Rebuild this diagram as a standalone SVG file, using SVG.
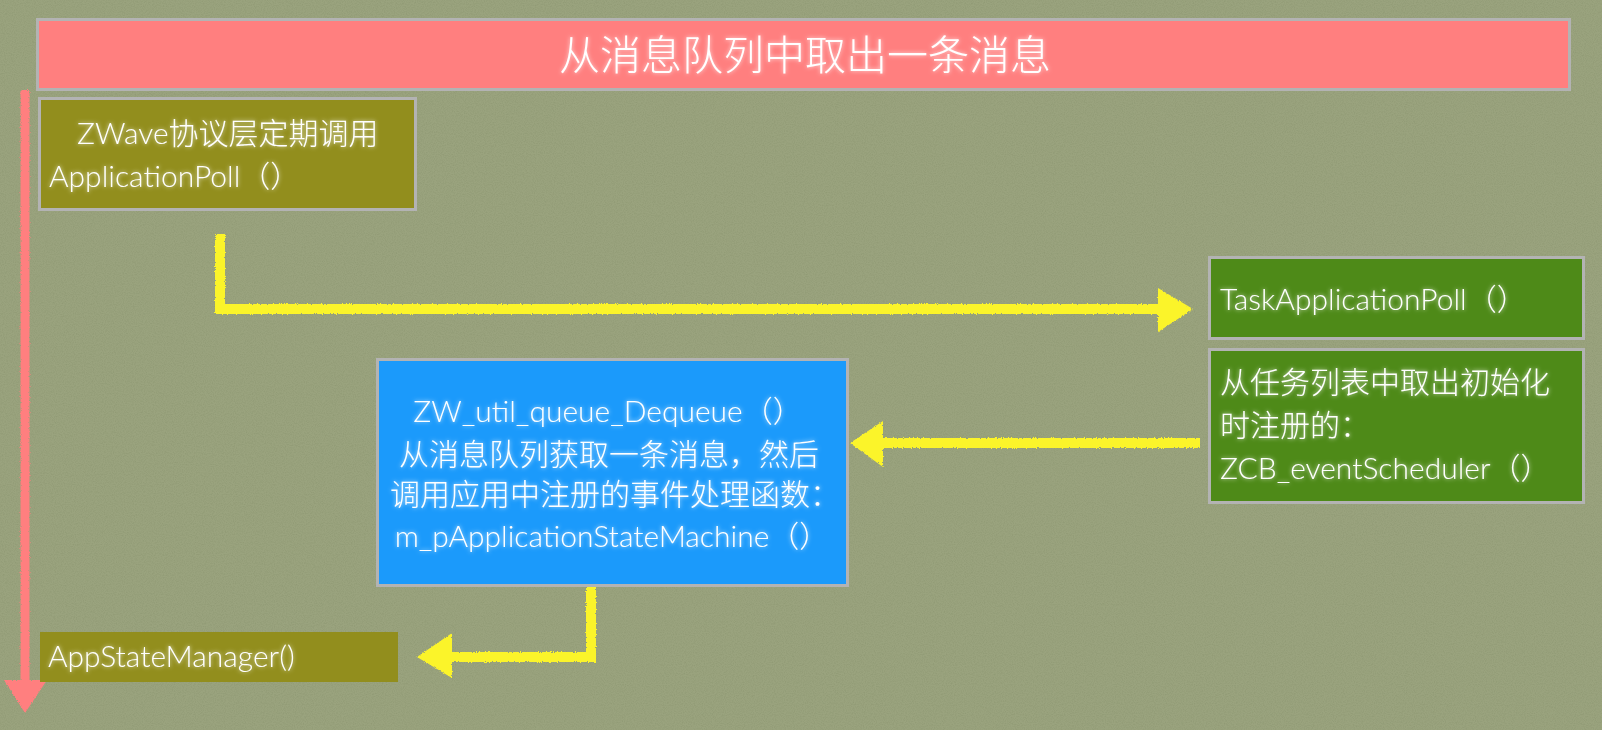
<svg xmlns="http://www.w3.org/2000/svg" width="1602" height="730" viewBox="0 0 1602 730">
<style>
.t{font-family:"Lato","Liberation Sans","Noto Sans CJK SC",sans-serif;font-weight:300;fill:#ffffff;font-size:30px;filter:url(#glow)}
.title{font-size:41px}
.box{stroke:#b3b3b3;stroke-width:3}
.olive{fill:#928e1d}
.green{fill:#4e8a18}
.blue{fill:#1b9afb}
.pink{fill:#ff7f7f}
.conn{fill:none;stroke:#fbf42b;stroke-width:10;stroke-linejoin:miter}
.head{fill:#fbf42b}
</style>
<defs>
<filter id="glow" x="-10%" y="-30%" width="120%" height="160%">
<feGaussianBlur in="SourceAlpha" stdDeviation="2.2" result="b"/>
<feFlood flood-color="#ffffff" flood-opacity="0.75"/>
<feComposite in2="b" operator="in" result="g"/>
<feMerge><feMergeNode in="g"/><feMergeNode in="SourceGraphic"/></feMerge>
</filter>
<filter id="noise" x="0" y="0" width="100%" height="100%">
<feTurbulence type="fractalNoise" baseFrequency="0.9 0.9" numOctaves="2" seed="3" result="n"/>
<feColorMatrix in="n" type="matrix" values="0 0 0 0 0.2  0 0 0 0 0.24  0 0 0 0 0.12  0 0 0 -1.6 1.0"/>
</filter>
<filter id="chalk" x="-5%" y="-5%" width="110%" height="110%">
<feTurbulence type="fractalNoise" baseFrequency="0.8" numOctaves="2" seed="7" result="n"/>
<feDisplacementMap in="SourceGraphic" in2="n" scale="3" xChannelSelector="R" yChannelSelector="G"/>
</filter>
</defs>
<rect x="0" y="0" width="1602" height="730" fill="#9aa37e"/>
<rect x="0" y="0" width="1602" height="730" filter="url(#noise)" opacity="0.35"/>

<g id="connectors" filter="url(#chalk)">
<g id="flow-arrow">
<line x1="25" y1="90" x2="25" y2="684" stroke="#ff7f7f" stroke-width="9"/>
<polygon points="4,680 47,680 25,713" fill="#ff7f7f"/>
</g>
<g id="c1">
<polyline class="conn" points="220,234 220,309 1162,309"/>
<polygon class="head" points="1158,288 1193,309 1158,332"/>
</g>
<g id="c2">
<polyline class="conn" points="1200,443 880,443"/>
<polygon class="head" points="883,421 850,443 883,467"/>
</g>
<g id="c3">
<polyline class="conn" points="591,583 591,657 450,657"/>
<polygon class="head" points="452,633 417,657 452,678"/>
</g>
</g>

<g id="title">
<rect class="box pink" x="37.5" y="19.5" width="1532" height="70"/>
<text class="t title" x="805" y="70" text-anchor="middle">从消息队列中取出一条消息</text>
</g>

<g id="zwave">
<rect class="box olive" x="39.5" y="98.5" width="376" height="111"/>
<text class="t" x="77" y="144">ZWave协议层定期调用</text>
<text class="t" x="49" y="187">ApplicationPoll（）</text>
</g>

<g id="task">
<rect class="box green" x="1209.5" y="257.5" width="374" height="81"/>
<text class="t" x="1220" y="310">TaskApplicationPoll（）</text>
</g>

<g id="scheduler">
<rect class="box green" x="1209.5" y="349.5" width="374" height="153"/>
<text class="t" x="1220" y="393">从任务列表中取出初始化</text>
<text class="t" x="1220" y="436">时注册的：</text>
<text class="t" x="1220" y="479">ZCB_eventScheduler（）</text>
</g>

<g id="dequeue">
<rect class="box blue" x="377.5" y="359.5" width="470" height="226"/>
<text class="t" x="608" y="422" text-anchor="middle">ZW_util_queue_Dequeue（）</text>
<text class="t" x="609" y="465" text-anchor="middle">从消息队列获取一条消息，然后</text>
<text class="t" x="615" y="505" text-anchor="middle">调用应用中注册的事件处理函数：</text>
<text class="t" x="612" y="547" text-anchor="middle">m_pApplicationStateMachine（）</text>
</g>

<g id="appstate">
<rect class="olive" x="40" y="632" width="358" height="50"/>
<text class="t" x="48" y="667">AppStateManager()</text>
</g>
</svg>
